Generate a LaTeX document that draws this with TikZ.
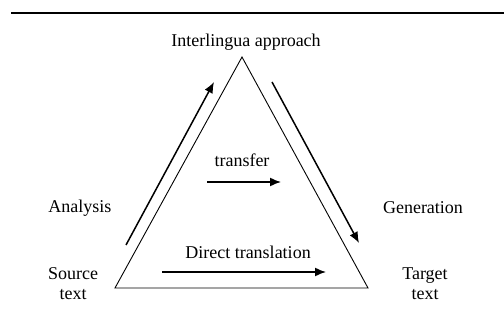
\documentclass[tikz,border=0pt]{standalone}
\usepackage{fontspec}
\setmainfont{Liberation Serif}
\usetikzlibrary{arrows.meta}
\tikzset{
	lbl/.style={font=\fontsize{18}{20}\selectfont, inner sep=0pt, align=center},
	flow/.style={line width=1.5pt, -{Latex[length=11pt,width=9pt]}}
}

\begin{document}
\begin{tikzpicture}[x=1pt, y=-1pt]
		%%%%% START %%%%%
		\useasboundingbox (0, 0) rectangle (504, 323);
		
		\draw[line width=1.8pt] (11, 13) -- (504, 13);
		
		% triangle
		\coordinate (apex) at (242, 57);
		\coordinate (srccorner) at (115, 288);
		\coordinate (tgtcorner) at (368, 288);
		\draw[line width=0.9pt, line join=miter] (apex) -- (srccorner) -- (tgtcorner) -- cycle;
		
		\node[lbl] (interlingua) at (246, 42) {Interlingua approach};
		\node[lbl] (analysis) at (80, 208) {Analysis};
		\node[lbl] (generation) at (423, 208) {Generation};
		\node[lbl] (source) at (73, 284) {Source\\text};
		\node[lbl] (target) at (425, 284) {Target\\text};
		\node[lbl] (transfer) at (242, 160) {transfer};
		\node[lbl] (direct) at (248, 252) {Direct translation};
		
		% analysis / generation
		\coordinate (anastart) at (126, 245);
		\coordinate (anaend) at (214, 82);
		\draw[flow] (anastart) -- (anaend);
		\coordinate (genstart) at (272, 82);
		\coordinate (genend) at (359, 243);
		\draw[flow] (genstart) -- (genend);
		
		% transfer / direct
		\coordinate (trstart) at (207, 182);
		\coordinate (trend) at (281, 182);
		\draw[flow] (trstart) -- (trend);
		\coordinate (dtstart) at (162, 272);
		\coordinate (dtend) at (326, 272);
		\draw[flow] (dtstart) -- (dtend);
		%%%%% END %%%%%
\end{tikzpicture}
\end{document}
